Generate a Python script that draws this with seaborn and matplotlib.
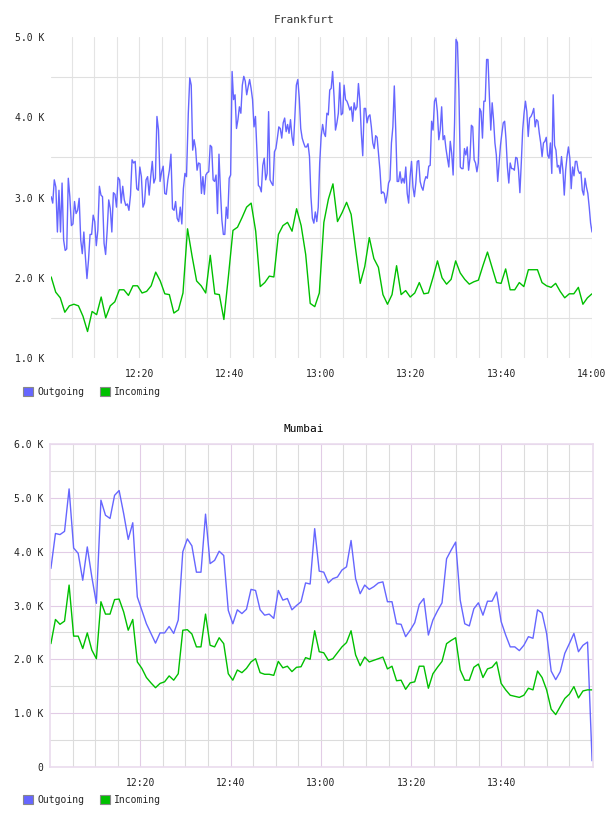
import numpy as np
import pandas as pd
import seaborn as sns
import matplotlib.pyplot as plt
from matplotlib.patches import Patch
from matplotlib.ticker import FixedLocator, FuncFormatter

# Traffic in K, x = minutes after 12:00

# Frankfurt outgoing, read in four half-hour blocks
fra_out_1 = [3.01, 2.93, 3.22, 3.13, 2.57, 3.09, 2.57, 3.18, 2.47, 2.34,
             2.36, 3.24, 3.01, 2.65, 2.67, 2.95, 2.80, 2.84, 2.99, 2.47,
             2.30, 2.57, 2.26, 1.99, 2.22, 2.54, 2.54, 2.78, 2.70, 2.40,
             2.59, 3.14, 3.03, 3.01, 2.43, 2.29, 2.59, 2.97, 2.86, 2.57,
             3.06, 3.04, 2.88, 3.25, 3.22, 2.93, 3.14, 2.97, 2.90, 2.92,
             2.84, 3.03, 3.47, 3.43, 3.45, 3.11, 3.09, 3.38, 3.26, 2.88,
             2.93, 3.22, 3.26, 3.03, 3.26, 3.45, 3.18, 3.24, 4.01, 3.84,
             3.20, 3.32, 3.39, 3.05, 3.04, 3.22, 3.34, 3.54, 2.86, 2.84,
             2.95, 2.74, 2.70, 2.88, 2.67, 3.11, 3.30, 3.26]
fra_out_2 = [4.05, 4.49, 4.40, 3.59, 3.72, 3.61, 3.34, 3.43, 3.42, 3.05,
             3.26, 3.04, 3.28, 3.31, 3.32, 3.65, 3.63, 3.22, 3.20, 3.28,
             2.80, 3.54, 3.09, 2.72, 2.54, 2.54, 2.88, 2.74, 3.24, 3.28,
             4.57, 4.22, 4.28, 3.86, 3.97, 4.13, 4.05, 4.40, 4.51, 4.45,
             4.28, 4.38, 4.47, 4.36, 4.22, 3.88, 4.01, 3.57, 3.15, 3.13,
             3.07, 3.40, 3.49, 3.22, 3.30, 4.07, 3.22, 3.18, 3.15, 3.57,
             3.61, 3.74, 3.88, 3.86, 3.74, 3.93, 3.99, 3.82, 3.91, 3.80,
             3.97, 3.76, 3.65, 4.01, 4.40, 4.47, 4.24, 3.86, 3.74, 3.68,
             3.63, 3.63, 3.67, 3.51, 3.01, 2.74, 2.68, 2.82, 2.70, 2.88,
             3.43, 3.76, 3.91, 3.80]
fra_out_3 = [3.76, 4.05, 4.03, 4.34, 4.36, 4.57, 4.26, 3.84, 3.93, 4.05,
             4.43, 4.03, 4.05, 4.40, 4.22, 4.20, 4.15, 4.09, 4.13, 3.95,
             4.18, 4.09, 4.13, 4.42, 4.20, 3.80, 3.52, 4.11, 4.11, 3.93,
             4.01, 4.03, 3.88, 3.68, 3.61, 3.77, 3.75, 3.55, 3.34, 3.05,
             3.07, 3.05, 2.93, 3.03, 3.18, 3.22, 3.68, 3.88, 4.39, 3.84,
             3.20, 3.20, 3.32, 3.18, 3.24, 3.18, 3.38, 3.05, 2.93, 3.26,
             3.45, 3.13, 3.01, 3.18, 3.45, 3.46, 3.20, 3.13, 3.09, 3.20,
             3.26, 3.24, 3.39, 3.40, 3.95, 3.84, 4.20, 4.24, 4.07, 3.72,
             3.84, 4.13, 3.72, 3.77, 3.61, 3.49, 3.38, 3.70, 3.55, 3.28,
             3.93, 4.97, 4.93, 4.34, 3.38]
fra_out_4 = [3.36, 3.36, 3.61, 3.53, 3.63, 3.34, 3.49, 3.90, 3.88, 3.47,
             3.43, 3.32, 3.43, 4.11, 4.07, 3.74, 4.20, 4.20, 4.72, 4.72,
             4.26, 3.84, 4.18, 3.97, 3.68, 3.53, 3.20, 3.43, 3.65, 3.80,
             3.93, 3.95, 3.72, 3.38, 3.18, 3.43, 3.36, 3.36, 3.34, 3.50,
             3.49, 3.34, 3.06, 3.43, 3.84, 4.05, 4.20, 4.07, 3.76, 3.99,
             4.01, 4.05, 4.11, 3.88, 3.97, 3.95, 3.80, 3.68, 3.51, 3.68,
             3.70, 3.75, 3.53, 3.49, 3.68, 3.30, 4.28, 3.65, 3.59, 3.38,
             3.40, 3.30, 3.51, 3.34, 3.03, 3.34, 3.51, 3.63, 3.49, 3.11,
             3.38, 3.27, 3.45, 3.45, 3.34, 3.30, 3.32, 3.09, 3.03, 3.24,
             3.13, 3.05, 2.88, 2.68, 2.57]
fra_out_spans = [(0.5, 30.4), (30.8, 60.8), (61.1, 90.9), (91.2, 120.0)]

# Frankfurt incoming, one value per minute
fra_in = [2.01, 1.82, 1.75, 1.57, 1.65, 1.67, 1.65, 1.52, 1.33, 1.58,
          1.54, 1.76, 1.50, 1.65, 1.70, 1.85, 1.85, 1.78, 1.90, 1.90,
          1.81, 1.83, 1.90, 2.07, 1.96, 1.80, 1.79, 1.56, 1.60, 1.81,
          2.61, 2.27, 1.96, 1.90, 1.81, 2.28, 1.80, 1.79, 1.48, 2.02,
          2.59, 2.63, 2.75, 2.88, 2.93, 2.58, 1.89, 1.94, 2.02, 2.01,
          2.54, 2.65, 2.69, 2.58, 2.86, 2.65, 2.29, 1.68, 1.64, 1.81,
          2.69, 2.98, 3.17, 2.70, 2.81, 2.94, 2.79, 2.35, 1.93, 2.14,
          2.50, 2.24, 2.13, 1.79, 1.67, 1.79, 2.15, 1.79, 1.84, 1.76,
          1.81, 1.94, 1.80, 1.81, 2.00, 2.21, 2.00, 1.92, 1.98, 2.21,
          2.06, 1.98, 1.92, 1.95, 1.97, 2.15, 2.32, 2.13, 1.94, 1.93,
          2.11, 1.85, 1.85, 1.94, 1.89, 2.10, 2.10, 2.10, 1.94, 1.90,
          1.88, 1.93, 1.83, 1.75, 1.80, 1.80, 1.88, 1.67, 1.75, 1.80]
fra_in_span = (0.5, 120.0)

# Mumbai, one value per minute
mum_out = [3.69, 4.34, 4.32, 4.38, 5.17, 4.07, 3.97, 3.47, 4.09, 3.53,
           3.04, 4.96, 4.68, 4.62, 5.05, 5.14, 4.71, 4.23, 4.54, 3.16,
           2.91, 2.66, 2.48, 2.30, 2.49, 2.49, 2.61, 2.48, 2.73, 4.00,
           4.24, 4.11, 3.62, 3.62, 4.70, 3.78, 3.84, 4.01, 3.93, 2.91,
           2.66, 2.92, 2.85, 2.93, 3.30, 3.28, 2.92, 2.82, 2.84, 2.76,
           3.28, 3.10, 3.13, 2.92, 3.00, 3.07, 3.42, 3.40, 4.43, 3.64,
           3.62, 3.42, 3.50, 3.53, 3.66, 3.72, 4.21, 3.50, 3.22, 3.38,
           3.30, 3.35, 3.42, 3.44, 3.07, 3.07, 2.66, 2.65, 2.42, 2.54,
           2.68, 3.02, 3.13, 2.45, 2.73, 2.90, 3.05, 3.87, 4.03, 4.18,
           3.10, 2.66, 2.62, 2.94, 3.05, 2.82, 3.08, 3.08, 3.25, 2.70,
           2.45, 2.23, 2.23, 2.16, 2.26, 2.42, 2.39, 2.92, 2.86, 2.48,
           1.78, 1.62, 1.77, 2.11, 2.29, 2.48, 2.14, 2.26, 2.32, 0.11]
mum_in = [2.29, 2.74, 2.65, 2.71, 3.38, 2.43, 2.43, 2.20, 2.49, 2.17,
          2.01, 3.07, 2.84, 2.84, 3.11, 3.12, 2.88, 2.54, 2.74, 1.95,
          1.83, 1.66, 1.56, 1.47, 1.55, 1.58, 1.69, 1.61, 1.73, 2.54,
          2.55, 2.47, 2.23, 2.23, 2.84, 2.26, 2.23, 2.40, 2.29, 1.73,
          1.61, 1.80, 1.75, 1.83, 1.95, 2.01, 1.75, 1.72, 1.72, 1.70,
          1.96, 1.84, 1.87, 1.77, 1.85, 1.86, 2.03, 2.00, 2.53, 2.14,
          2.12, 1.98, 2.01, 2.12, 2.23, 2.31, 2.53, 2.08, 1.88, 2.04,
          1.95, 1.98, 2.01, 2.04, 1.82, 1.87, 1.60, 1.61, 1.44, 1.56,
          1.58, 1.87, 1.87, 1.46, 1.73, 1.85, 1.96, 2.29, 2.35, 2.40,
          1.80, 1.61, 1.61, 1.85, 1.91, 1.66, 1.82, 1.85, 1.95, 1.55,
          1.43, 1.33, 1.31, 1.29, 1.33, 1.46, 1.43, 1.78, 1.66, 1.43,
          1.07, 0.97, 1.12, 1.27, 1.35, 1.49, 1.28, 1.41, 1.43, 1.43]
mum_span = (0.2, 120.1)

series_names = ["Outgoing", "Incoming"]
fra_yticks = [1, 2, 3, 4, 5]
mum_yticks = [0, 1, 2, 3, 4, 5, 6]
fra_xticks = [20, 40, 60, 80, 100, 120]
mum_xticks = [20, 40, 60, 80, 100]

BLUE = "#6666ff"
GREEN = "#00c000"
palette = {"Outgoing": BLUE, "Incoming": GREEN}

# build long-form tables
fra_t = np.concatenate([np.linspace(a, b, len(v)) for (a, b), v in
                        zip(fra_out_spans, [fra_out_1, fra_out_2, fra_out_3, fra_out_4])])
fra_v = fra_out_1 + fra_out_2 + fra_out_3 + fra_out_4
fra_df = pd.concat([
    pd.DataFrame({"minute": fra_t, "k": fra_v, "series": "Outgoing"}),
    pd.DataFrame({"minute": np.linspace(*fra_in_span, len(fra_in)), "k": fra_in, "series": "Incoming"}),
])
mum_x = np.linspace(*mum_span, len(mum_out))
mum_df = pd.concat([
    pd.DataFrame({"minute": mum_x, "k": mum_out, "series": "Outgoing"}),
    pd.DataFrame({"minute": mum_x, "k": mum_in, "series": "Incoming"}),
])


def hhmm(m, pos):
    m = int(round(m))
    return f"{12 + m // 60}:{m % 60:02d}"


def kfmt(v, pos):
    return "0" if v == 0 else f"{v:.1f} K"


sns.set_style("white")
plt.rcParams["font.family"] = ["DejaVu Sans Mono"]

fig = plt.figure(figsize=(6.08, 8.16), dpi=100)
W, H = 608, 816
ax1 = fig.add_axes([51 / W, 1 - 358 / H, 541 / W, 321 / H])
ax2 = fig.add_axes([50 / W, 1 - 766.7 / H, 543 / W, 322.4 / H])

for ax, df in [(ax1, fra_df), (ax2, mum_df)]:
    sns.lineplot(data=df, x="minute", y="k", hue="series", hue_order=series_names,
                 palette=palette, estimator=None, linewidth=1.0, legend=False, ax=ax)
    ax.set_xlabel("")
    ax.set_ylabel("")
    ax.xaxis.set_major_formatter(FuncFormatter(hhmm))
    ax.yaxis.set_major_formatter(FuncFormatter(kfmt))
    ax.xaxis.set_minor_locator(FixedLocator(np.arange(5, 120, 5)))
    ax.tick_params(which="both", length=0, labelsize=7, colors="#222222")
    ax.tick_params(axis="x", pad=8)
    ax.tick_params(axis="y", pad=5)
    ax.set_axisbelow(True)

# Frankfurt: grid only on half steps, no frame
ax1.set_xlim(0.46, 120)
ax1.set_ylim(1, 5)
ax1.xaxis.set_major_locator(FixedLocator(fra_xticks))
ax1.yaxis.set_major_locator(FixedLocator(fra_yticks))
ax1.yaxis.set_minor_locator(FixedLocator([1.5, 2.5, 3.5, 4.5]))
ax1.grid(False)
ax1.grid(True, which="both", axis="x", color="#e4e4e4", lw=0.8)
ax1.grid(True, which="minor", axis="y", color="#e0e0e0", lw=0.8)
for s in ax1.spines.values():
    s.set_visible(False)

# Mumbai: purple major grid + frame, grey minor grid
ax2.set_xlim(0, 120.3)
ax2.set_ylim(0, 6)
ax2.xaxis.set_major_locator(FixedLocator(mum_xticks))
ax2.yaxis.set_major_locator(FixedLocator(mum_yticks))
ax2.yaxis.set_minor_locator(FixedLocator(np.arange(0.5, 6, 1.0)))
ax2.grid(True, which="major", color="#e2cce6", lw=0.8)
ax2.grid(True, which="minor", color="#dcdcdc", lw=0.8)
for s in ax2.spines.values():
    s.set_visible(True)
    s.set_color("#eadcee")
    s.set_linewidth(1.2)

fig.text(0.5, 1 - 20 / H, "Frankfurt", ha="center", va="center", fontsize=8, color="#333333")
fig.text(0.5, 1 - 429 / H, "Mumbai", ha="center", va="center", fontsize=8, color="#000000")

handles = [Patch(facecolor=palette[n], edgecolor="#888888", lw=0.8) for n in series_names]
for ypix in (392, 800):
    fig.legend(handles, series_names, loc="center left", bbox_to_anchor=(23 / W, 1 - ypix / H),
               ncol=2, frameon=False, fontsize=7, handlelength=1.05, handleheight=1.05,
               handletextpad=0.4, columnspacing=1.6, borderpad=0, borderaxespad=0)

fig.savefig("out.png", dpi=100)
